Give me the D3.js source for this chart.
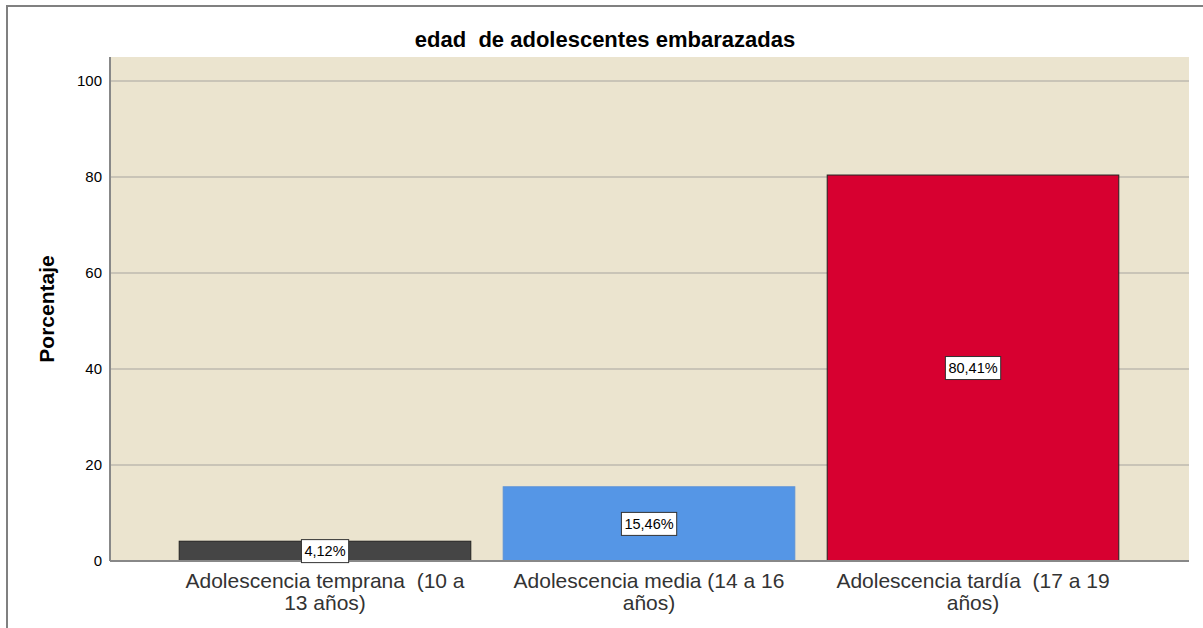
<!DOCTYPE html>
<html>
<head>
<meta charset="utf-8">
<script src="https://cdn.jsdelivr.net/npm/d3@7"></script>
<style>
  body { margin: 0; background: #fff; }
  svg { font-family: "Liberation Sans", Arial, sans-serif; }
</style>
</head>
<body>
<div id="chart"></div>
<script>
// data
var categories = [
    ["Adolescencia temprana  (10 a", "13 años)"],
    ["Adolescencia media (14 a 16", "años)"],
    ["Adolescencia tardía  (17 a 19", "años)"]
];
var percentages = [4.12, 15.46, 80.41];
var valueLabels = ["4,12%", "15,46%", "80,41%"];
var yTicks = [0, 20, 40, 60, 80, 100];
var barColors = ["#454545", "#5596e6", "#d70030"];
var barStrokes = ["#222222", "#5a92d8", "#222222"];

var svgWidth = 1203;
var svgHeight = 628;
var plot = { left: 110, top: 57, right: 1189, bottom: 561 };

var svg = d3.select("#chart")
    .append("svg")
    .attr("width", svgWidth)
    .attr("height", svgHeight);

// outer frame (left + top only visible)
svg.append("path")
    .attr("d", "M7,628 V6 H1203")
    .attr("fill", "none")
    .attr("stroke", "#808080")
    .attr("stroke-width", 2);

// plot background
svg.append("rect")
    .attr("x", plot.left)
    .attr("y", plot.top)
    .attr("width", plot.right - plot.left)
    .attr("height", plot.bottom - plot.top)
    .attr("fill", "#ebe4cf");

var y = d3.scaleLinear()
    .domain([0, 105])
    .range([plot.bottom, plot.bottom - 105 * 4.8]);

var x = d3.scaleBand()
    .domain(d3.range(categories.length))
    .range([plot.left + 53, plot.right - 54])
    .paddingInner(0.1)
    .paddingOuter(0.05);

// grid lines
svg.append("g")
    .selectAll("line")
    .data(yTicks.filter(d => d > 0))
    .enter()
    .append("line")
    .attr("x1", plot.left)
    .attr("x2", plot.right)
    .attr("y1", d => y(d))
    .attr("y2", d => y(d))
    .attr("stroke", "#c9c4b7")
    .attr("stroke-width", 2);

// y axis
var yAxis = d3.axisLeft(y).tickValues(yTicks).tickSize(0).tickPadding(8);
var yG = svg.append("g")
    .attr("transform", `translate(${plot.left}, 0)`)
    .call(yAxis);
yG.select(".domain").attr("stroke", "#888").attr("stroke-width", 2)
    .attr("d", `M0,${plot.top}V${plot.bottom}`);
yG.selectAll("text")
    .attr("font-size", "15px")
    .attr("fill", "#000")
    .attr("font-family", "Liberation Sans, Arial, sans-serif");

// bars
svg.append("g")
    .selectAll("rect")
    .data(percentages)
    .enter()
    .append("rect")
    .attr("x", (d, i) => x(i))
    .attr("y", d => y(d))
    .attr("width", x.bandwidth())
    .attr("height", d => y(0) - y(d))
    .attr("fill", (d, i) => barColors[i])
    .attr("stroke", (d, i) => barStrokes[i])
    .attr("stroke-width", 1);

// bottom axis line
svg.append("line")
    .attr("x1", plot.left)
    .attr("x2", plot.right)
    .attr("y1", plot.bottom)
    .attr("y2", plot.bottom)
    .attr("stroke", "#888")
    .attr("stroke-width", 2);

// value labels in boxes
var labels = svg.append("g")
    .selectAll("g")
    .data(percentages)
    .enter()
    .append("g")
    .attr("transform", (d, i) => `translate(${x(i) + x.bandwidth() / 2}, ${(y(d) + y(0)) / 2})`);

labels.append("text")
    .text((d, i) => valueLabels[i])
    .attr("text-anchor", "middle")
    .attr("dy", "0.36em")
    .attr("font-size", "14.5px")
    .attr("fill", "#000")
    .each(function() {
        var bb = this.getBBox();
        d3.select(this.parentNode).insert("rect", "text")
            .attr("x", bb.x - 3)
            .attr("y", -11.5)
            .attr("width", bb.width + 6)
            .attr("height", 23)
            .attr("fill", "#fff")
            .attr("stroke", "#333")
            .attr("stroke-width", 1);
    });

// category labels
var cat = svg.append("g")
    .selectAll("text")
    .data(categories)
    .enter()
    .append("text")
    .attr("x", (d, i) => x(i) + x.bandwidth() / 2)
    .attr("y", 588)
    .attr("text-anchor", "middle")
    .attr("font-size", "21px")
    .attr("fill", "#333")
    .style("white-space", "pre");
cat.selectAll("tspan")
    .data(d => d)
    .enter()
    .append("tspan")
    .attr("x", function() { return d3.select(this.parentNode).attr("x"); })
    .attr("dy", (d, i) => i === 0 ? 0 : 22)
    .text(d => d);

// title
svg.append("text")
    .attr("x", 605)
    .attr("y", 47)
    .attr("text-anchor", "middle")
    .attr("font-size", "22px")
    .attr("font-weight", "bold")
    .attr("fill", "#000")
    .style("white-space", "pre")
    .text("edad  de adolescentes embarazadas");

// y axis title
svg.append("text")
    .attr("transform", "translate(54, 309) rotate(-90)")
    .attr("text-anchor", "middle")
    .attr("font-size", "21px")
    .attr("font-weight", "bold")
    .attr("fill", "#000")
    .text("Porcentaje");
</script>
</body>
</html>
